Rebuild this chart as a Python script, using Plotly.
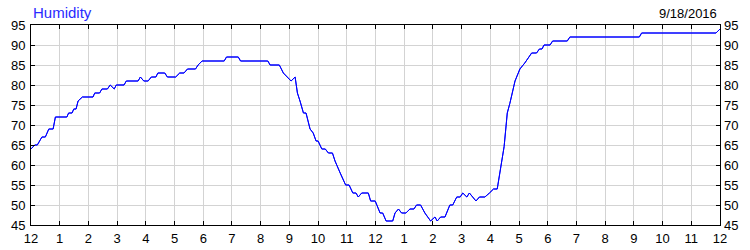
import plotly.graph_objects as go

title_text = "Humidity"
date_text = "9/18/2016"

hours = [0, 0.13, 0.22, 0.38, 0.5, 0.62, 0.77, 0.85, 1.25, 1.31, 1.43, 1.49, 1.57, 1.64,
         1.79, 2.16, 2.22, 2.39, 2.47, 2.66, 2.76, 2.90, 2.97, 3.24, 3.32, 3.73, 3.81, 3.93,
         4.08, 4.19, 4.35, 4.42, 4.66, 4.75, 5.04, 5.18, 5.33, 5.45, 5.73, 5.82, 5.96, 6.73,
         6.81, 7.22, 7.30, 8.25, 8.33, 8.65, 8.79, 8.93, 9.06, 9.20, 9.28, 9.37, 9.49, 9.58,
         9.72, 9.83, 9.93, 10.0, 10.13, 10.25, 10.36, 10.5, 10.59, 10.77, 10.96, 11.08, 11.21,
         11.32, 11.40, 11.52, 11.75, 11.83, 11.99, 12.16, 12.25, 12.37, 12.60, 12.68, 12.80,
         12.91, 13.06, 13.20, 13.34, 13.43, 13.57, 13.72, 13.92, 14.07, 14.15, 14.27, 14.42,
         14.59, 14.69, 14.83, 14.95, 15.04, 15.18, 15.27, 15.50, 15.62, 15.81, 15.97, 16.11,
         16.24, 16.36, 16.48, 16.59, 16.68, 16.86, 17.03, 17.20, 17.44, 17.61, 17.71, 17.80,
         17.87, 18.08, 18.17, 18.68, 18.77, 21.19, 21.27, 23.86, 23.98, 24.0]
humidity = [64, 65, 65, 67, 67, 69, 69, 72, 72, 73, 73, 74, 74, 76,
            77, 77, 78, 78, 79, 79, 80, 79, 80, 80, 81, 81, 82, 81,
            81, 82, 82, 83, 83, 82, 82, 83, 83, 84, 84, 85, 86, 86,
            87, 87, 86, 86, 85, 85, 83, 82, 81, 82, 78, 76, 73, 73,
            69, 68, 66, 66, 64, 64, 63, 63, 61, 58, 55, 55, 53,
            53, 52, 53, 53, 51, 51, 48, 48, 46, 46, 48, 49,
            48, 48, 49, 49, 50, 50, 48, 46, 47, 46, 47, 47,
            50, 50, 52, 52, 53, 52, 53, 51, 52, 52, 53, 54,
            54, 59, 64.6, 73, 75.4, 81, 84, 85.5, 88, 88, 89, 89,
            90, 90, 91, 91, 92, 92, 93, 93, 94, 94]

tick_vals = list(range(0, 25))
tick_text = ["12"] + [str(i) for i in range(1, 12)] + ["12"] + [str(i) for i in range(1, 12)] + ["12"]
y_ticks = list(range(45, 100, 5))

font_family = "Liberation Sans, Arial, sans-serif"

fig = go.Figure()
fig.add_trace(go.Scatter(x=hours, y=humidity, mode="lines",
                         line=dict(color="#0000ff", width=1), hoverinfo="skip", showlegend=False))
fig.add_trace(go.Scatter(x=hours, y=humidity, mode="lines", yaxis="y2",
                         line=dict(color="#0000ff", width=1), hoverinfo="skip", showlegend=False))

fig.update_layout(
    width=750, height=250,
    margin=dict(l=31, r=30, t=25, b=25, autoexpand=False),
    paper_bgcolor="white", plot_bgcolor="white",
    font=dict(family=font_family, size=13, color="#000000"),
    xaxis=dict(range=[0, 24], tickmode="array", tickvals=tick_vals, ticktext=tick_text,
               showgrid=True, gridcolor="#d3d3d3", gridwidth=1, zeroline=False,
               showline=True, linecolor="black", linewidth=1, mirror="ticks",
               ticks="inside", ticklen=4, tickcolor="black", tickfont=dict(size=13),
               ticklabelstandoff=1, automargin=False),
    yaxis=dict(range=[45, 95], tickmode="array", tickvals=y_ticks,
               showgrid=True, gridcolor="#d3d3d3", gridwidth=1, zeroline=False,
               showline=True, linecolor="black", linewidth=1, mirror="ticks",
               ticks="inside", ticklen=4, tickcolor="black", tickfont=dict(size=13),
               ticklabelstandoff=2, automargin=False),
    yaxis2=dict(range=[45, 95], tickmode="array", tickvals=y_ticks, overlaying="y", side="right",
                showgrid=False, zeroline=False, showline=False,
                ticks="", tickfont=dict(size=13), ticklabelstandoff=3, automargin=False),
    annotations=[
        dict(text=title_text, xref="paper", yref="paper", x=0, y=1, xanchor="left", yanchor="bottom",
             xshift=0, yshift=2, showarrow=False, font=dict(size=15, color="#2a2aff", family=font_family)),
        dict(text=date_text, xref="paper", yref="paper", x=1, y=1, xanchor="right", yanchor="bottom",
             xshift=-1, yshift=2, showarrow=False, font=dict(size=13, color="#000000", family=font_family)),
    ],
)

fig.write_html("out.html")
